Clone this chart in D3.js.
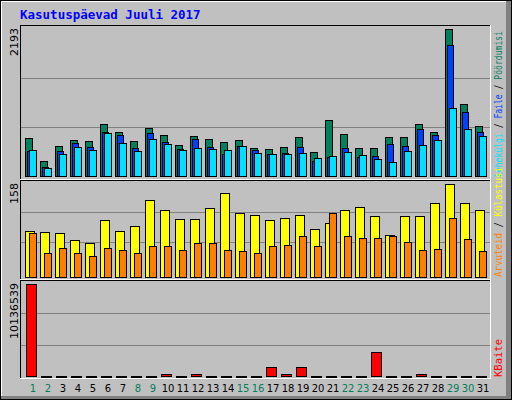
<!DOCTYPE html><html><head><meta charset="utf-8"><script src="https://cdn.jsdelivr.net/npm/d3@7"></script>
<style>body{margin:0;background:#fff}</style></head><body><svg id="c" width="512" height="400"></svg>
<script>
const days=d3.range(1,32);
const weekend=[1,2,8,9,15,16,22,23,29,30];
const hits=[567,224,448,537,522,776,656,522,716,612,463,597,552,507,537,418,403,433,582,358,836,627,418,418,582,582,776,656,2193,1074,746];
const files=[373,134,373,492,433,656,612,418,641,507,403,552,433,328,448,388,328,343,433,224,284,418,284,298,477,448,701,612,1954,955,656];
const pages=[388,119,328,433,388,641,492,373,552,477,388,418,403,388,448,343,328,328,343,269,298,358,313,254,209,373,463,537,1014,701,597];
const visits=[79,77,74,63,58,96,79,86,130,114,99,99,118,143,108,106,96,101,106,82,92,114,119,104,72,104,104,126,158,125,113];
const sites=[75,40,50,40,35,50,46,41,53,53,46,57,57,46,45,40,53,55,70,52,109,70,67,67,69,60,46,48,101,65,45];
const kbytes=[10136539,20000,20000,20000,20000,20000,20000,20000,20000,257000,20000,257000,20000,20000,20000,20000,1028000,257000,1028000,20000,20000,20000,20000,2681000,20000,20000,257000,20000,20000,20000,20000];
const maxTicks={hits:"2193",visits:"158",kb:"10136539"};
const svg=d3.select("#c");
svg.append("rect").attr("x",0).attr("y",0).attr("width",512).attr("height",400).attr("fill","#000");
svg.append("rect").attr("x",1).attr("y",1).attr("width",510).attr("height",398).attr("fill","#808080");
svg.append("rect").attr("x",1).attr("y",1).attr("width",505).attr("height",395).attr("fill","#fff");
svg.append("rect").attr("x",2).attr("y",2).attr("width",504).attr("height",394).attr("fill","#c0c0c0");
const font="'DejaVu Sans Mono',monospace";
svg.append("text").attr("x",20).attr("y",19).attr("fill","#0000ff").attr("font-family",font).attr("font-weight","bold").attr("font-size",12.5).text("Kasutuspäevad Juuli 2017");
const x=d3.scaleLinear().domain([1,31]).range([25,475]);
function frame(y0,y1){
  svg.append("line").attr("x1",20).attr("x2",491).attr("y1",y0+0.5).attr("y2",y0+0.5).attr("stroke","#000");
  svg.append("line").attr("x1",20.5).attr("x2",20.5).attr("y1",y0).attr("y2",y1).attr("stroke","#000");
  svg.append("line").attr("x1",20).attr("x2",491).attr("y1",y1+0.5).attr("y2",y1+0.5).attr("stroke","#fff");
  svg.append("line").attr("x1",490.5).attr("x2",490.5).attr("y1",y0).attr("y2",y1).attr("stroke","#fff");
}
function grid(y,vals){vals.forEach(v=>svg.append("line").attr("x1",21).attr("x2",490).attr("y1",Math.round(y(v))+0.5).attr("y2",Math.round(y(v))+0.5).attr("stroke","#808080"));}
function bars(data,y,dx,w,col){
  svg.append("g").selectAll("rect").data(data).join("rect")
   .attr("x",(d,i)=>x(days[i])+dx+0.5).attr("width",w)
   .attr("y",d=>Math.round(y(d))+0.5).attr("height",d=>Math.max(1,y(0)-Math.round(y(d))))
   .attr("fill",col).attr("stroke","#000");
}
function ylab(t,xx,yy){svg.append("text").attr("transform",`translate(${xx},${yy}) rotate(-90)`).attr("text-anchor","end").attr("font-family","'DejaVu Sans',sans-serif").attr("font-size",11).attr("fill","#000").text(t);}
frame(25,179);
const y1=d3.scaleLinear().domain([0,2193]).range([176,29]);
grid(y1,[2193/3,2193*2/3]);
bars(hits,y1,0,7,"#00805c");bars(files,y1,2,6,"#0040ff");bars(pages,y1,4,7,"#00e0ff");
ylab(maxTicks.hits,18,28);
frame(180,279);
const y2=d3.scaleLinear().domain([0,158]).range([277,184]);
grid(y2,[158/3+6,158*2/3+5]);
bars(visits,y2,0,9,"#ffff00");bars(sites,y2,4,7,"#ff8000");
ylab(maxTicks.visits,18,183);
frame(280,378);
const y3=d3.scaleLinear().domain([0,10136539]).range([376,284]);
grid(y3,[10136539*0.335,10136539*0.685]);
bars(kbytes,y3,1,10,"#ff0000");
ylab(maxTicks.kb,18,283);
svg.append("g").selectAll("text").data(days).join("text").attr("x",d=>x(d)+8).attr("y",392).attr("text-anchor","middle")
 .attr("font-family","'DejaVu Sans',sans-serif").attr("font-size",10).attr("fill",d=>weekend.includes(d)?"#00805c":"#000").text(d=>d);
function rlab(parts,yy,len){const t=svg.append("text").attr("transform",`translate(502,${yy}) rotate(-90)`).attr("font-family",font).attr("font-size",10).attr("textLength",len).attr("lengthAdjust","spacingAndGlyphs");
 parts.forEach(p=>t.append("tspan").attr("fill",p[1]).text(p[0]));}
rlab([["Lehekülgi","#00e0ff"],[" / ","#000"],["Faile","#0040ff"],[" / ","#000"],["Pöördumisi","#00805c"]],177,146);
rlab([["Arvuteid","#ff8000"],[" / ","#000"],["Külastusi","#ffff00"]],277,110);
rlab([["KBaite","#ff0000"]],377,38);
</script></body></html>
